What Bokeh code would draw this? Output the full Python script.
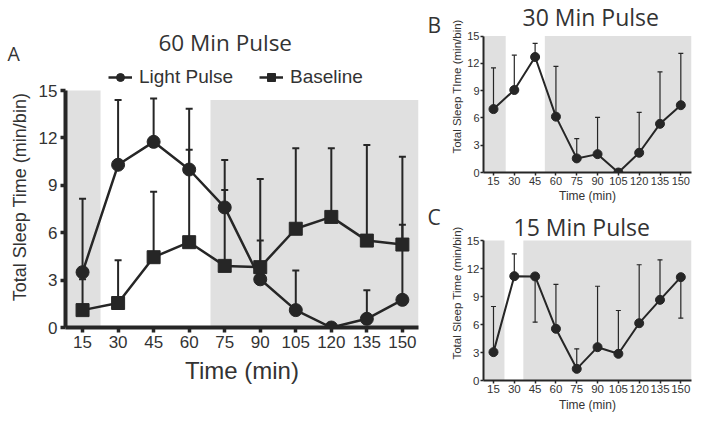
from bokeh.plotting import figure
from bokeh.layouts import row, column
from bokeh.models import Legend, LegendItem, Label, FixedTicker, Range1d
from bokeh.embed import file_html
from bokeh.resources import INLINE

# ---------------- data ----------------
time = [15, 30, 45, 60, 75, 90, 105, 120, 135, 150]
tick_labels = ["15", "30", "45", "60", "75", "90", "105", "120", "135", "150"]
y_ticks = [0, 3, 6, 9, 12, 15]

# Panel A (60 min pulse)
a_light = [3.5, 10.3, 11.75, 10.0, 7.6, 3.05, 1.1, 0.0, 0.55, 1.75]
a_light_cap = [8.15, 14.4, 14.5, 13.85, 10.6, 5.5, 3.6, 0.0, 2.35, 6.5]
a_base = [1.1, 1.55, 4.45, 5.4, 3.9, 3.82, 6.25, 7.0, 5.5, 5.25]
a_base_cap = [3.05, 4.25, 8.6, 11.25, 8.7, 9.4, 11.35, 11.35, 11.55, 10.8]
a_shade_left = [7.8, 69.0]
a_shade_right = [22.6, 156.8]
a_shade_top = [15.0, 14.4]

# Panel B (30 min pulse)
b_val = [6.97, 9.07, 12.7, 6.14, 1.55, 2.02, 0.0, 2.17, 5.35, 7.4]
b_cap = [11.5, 12.9, 14.2, 11.67, 3.72, 6.07, 0.0, 6.6, 11.06, 13.1]
b_shade_left = [7.8, 52.0]
b_shade_right = [23.8, 157.7]
b_shade_top = [15.0, 15.0]

# Panel C (15 min pulse)
c_val = [3.04, 11.18, 11.15, 5.54, 1.25, 3.57, 2.86, 6.14, 8.64, 11.07]
c_cap = [7.93, 13.57, 6.25, 10.29, 3.39, 10.1, 7.5, 12.4, 12.93, 6.68]
c_shade_left = [7.8, 36.5]
c_shade_right = [22.9, 157.7]
c_shade_top = [15.0, 15.0]

INK = "#262626"
TXT = "#333333"
SHADE = "#e0e0e0"
SANS = "Liberation Sans"
TITLEF = "Open Sans"


def style(p, axis_w, tick_fs, label_fs, tick_out, tick_w, ylab, xlab, lab_stand, tl_stand):
    p.xgrid.visible = False
    p.ygrid.visible = False
    p.outline_line_color = None
    p.background_fill_color = "white"
    p.border_fill_color = "white"
    p.xaxis.ticker = FixedTicker(ticks=time)
    p.xaxis.major_label_overrides = {t: s for t, s in zip(time, tick_labels)}
    p.yaxis.ticker = FixedTicker(ticks=y_ticks)
    p.yaxis.bounds = (0, 15)
    for ax in (p.xaxis, p.yaxis):
        ax.axis_line_width = axis_w
        ax.axis_line_color = INK
        ax.major_tick_line_width = tick_w
        ax.major_tick_line_color = INK
        ax.major_tick_out = tick_out
        ax.major_tick_in = 0
        ax.minor_tick_line_color = None
        ax.major_label_text_font = SANS
        ax.major_label_text_font_size = tick_fs
        ax.major_label_text_color = TXT
        ax.axis_label_text_font = SANS
        ax.axis_label_text_font_style = "normal"
        ax.axis_label_text_color = TXT
        ax.major_label_standoff = tl_stand
    p.yaxis.axis_label = ylab
    p.xaxis.axis_label = xlab
    p.yaxis.axis_label_text_font_size = label_fs[0]
    p.xaxis.axis_label_text_font_size = label_fs[1]
    p.yaxis.axis_label_standoff = lab_stand[0]
    p.xaxis.axis_label_standoff = lab_stand[1]


def header(w, h):
    f = figure(width=w, height=h, output_backend="svg", toolbar_location=None,
               title=None, x_range=Range1d(0, 1), y_range=Range1d(0, 1),
               x_axis_location=None, y_axis_location=None, min_border=0)
    f.xgrid.visible = False
    f.ygrid.visible = False
    f.outline_line_color = None
    f.background_fill_color = "white"
    f.border_fill_color = "white"
    return f


def label(p, x, y, text, size, font=TITLEF):
    p.add_layout(Label(x=x, y=y, x_units="screen", y_units="screen", text=text,
                       text_font=font, text_font_size=size, text_color=TXT,
                       text_align="left", text_baseline="alphabetic"))


# ---------------- Panel A ----------------
hdr_a = header(420, 66)
label(hdr_a, 158, 24, "60 Min Pulse", "22.5px")
label(hdr_a, 7, 13, "A", "19.5px")

pa = figure(width=420, height=355, output_backend="svg", toolbar_location=None, title=None,
            x_range=Range1d(7.8, 156.8), y_range=Range1d(0, 16.52),
            min_border_left=65, min_border_right=2, min_border_top=0, min_border_bottom=94)
style(pa, 4, "17px", ("18px", "24px"), 5, 3.5, "Total Sleep Time (min/bin)", "Time (min)", (6, 6), 3)
pa.quad(left=a_shade_left, right=a_shade_right, bottom=0, top=a_shade_top,
        fill_color=SHADE, line_color=None)
pa.segment(x0=time, y0=a_light, x1=time, y1=a_light_cap, line_color=INK, line_width=2)
pa.segment(x0=time, y0=a_base, x1=time, y1=a_base_cap, line_color=INK, line_width=2)
pa.scatter(time, a_light_cap, marker="dash", size=7, line_color=INK, line_width=2)
pa.scatter(time, a_base_cap, marker="dash", size=7, line_color=INK, line_width=2)
la = pa.line(time, a_light, line_color=INK, line_width=2.5)
ca = pa.scatter(time, a_light, marker="circle", size=13, fill_color=INK, line_color=INK)
lb = pa.line(time, a_base, line_color=INK, line_width=2.5)
sb = pa.scatter(time, a_base, marker="square", size=13, fill_color=INK, line_color=INK)
legend = Legend(items=[LegendItem(label="Light Pulse", renderers=[la, ca]),
                       LegendItem(label="Baseline", renderers=[lb, sb])],
                orientation="horizontal", location=(43, 239),
                label_text_font=SANS, label_text_font_size="19px", label_text_color=TXT,
                glyph_width=24, glyph_height=20, label_height=18, spacing=26,
                padding=0, margin=0, label_standoff=7,
                background_fill_alpha=0, border_line_alpha=0)
pa.add_layout(legend, "center")

# ---------------- letters strip for B and C ----------------
letters = header(26, 421)
label(letters, 7, 397, "B", "21px")
label(letters, 7, 205, "C", "21px")

# ---------------- Panel B ----------------
pb = figure(width=255, height=205, output_backend="svg", toolbar_location=None, title=None,
            x_range=Range1d(7.8, 157.7), y_range=Range1d(0, 18.91),
            min_border_left=36, min_border_right=10, min_border_top=0, min_border_bottom=31)
style(pb, 2, "11px", ("11.5px", "12px"), 3, 1.5, "Total Sleep TIme (min/bin)", "Time (min)", (1, 1), 1)
pb.quad(left=b_shade_left, right=b_shade_right, bottom=0, top=b_shade_top,
        fill_color=SHADE, line_color=None)
pb.segment(x0=time, y0=b_val, x1=time, y1=b_cap, line_color=INK, line_width=1.2)
pb.scatter(time, b_cap, marker="dash", size=5, line_color=INK, line_width=1.2)
pb.line(time, b_val, line_color=INK, line_width=2)
pb.scatter(time, b_val, marker="circle", size=9, fill_color=INK, line_color=INK)
label(pb, 39, 156, "30 Min Pulse", "23px")

# ---------------- Panel C ----------------
pc = figure(width=255, height=216, output_backend="svg", toolbar_location=None, title=None,
            x_range=Range1d(7.8, 157.7), y_range=Range1d(0, 18.75),
            min_border_left=37, min_border_right=7, min_border_top=0, min_border_bottom=41)
style(pc, 2, "11.5px", ("11.5px", "12px"), 3, 1.5, "Total Sleep Time (min/bin)", "Time (min)", (1, 2), 1)
pc.quad(left=c_shade_left, right=c_shade_right, bottom=0, top=c_shade_top,
        fill_color=SHADE, line_color=None)
pc.segment(x0=time, y0=c_val, x1=time, y1=c_cap, line_color=INK, line_width=1.2)
pc.scatter(time, c_cap, marker="dash", size=5, line_color=INK, line_width=1.2)
pc.line(time, c_val, line_color=INK, line_width=2)
pc.scatter(time, c_val, marker="circle", size=9, fill_color=INK, line_color=INK)
label(pc, 30, 154, "15 Min Pulse", "23px")

layout = row(column(row(hdr_a), pa), letters, column(pb, pc))
open("out.html", "w").write(file_html(layout, INLINE))
